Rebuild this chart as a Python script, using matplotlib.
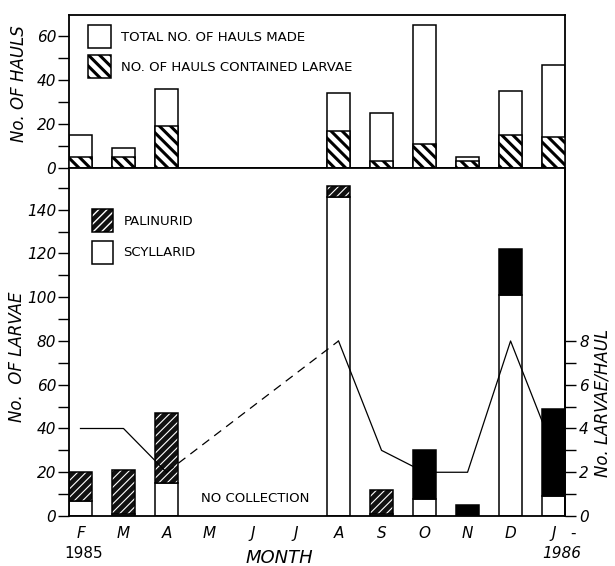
import numpy as np
import matplotlib
matplotlib.use("Agg")
import matplotlib.pyplot as plt
from matplotlib.patches import Patch
from matplotlib.ticker import MultipleLocator
from matplotlib.legend_handler import HandlerTuple

# ---------------- data ----------------
months = ['F', 'M', 'A', 'M', 'J', 'J', 'A', 'S', 'O', 'N', 'D', 'J']
hauls_total = [15, 9, 36, None, None, None, 34, 25, 65, 5, 35, 47]
hauls_larvae = [5, 5, 19, None, None, None, 17, 3, 11, 3, 15, 14]
scyllarid = [7, 1, 15, None, None, None, 146, 1, 8, 0, 101, 9]
palinurid = [13, 20, 32, None, None, None, 5, 11, 22, 5, 21, 40]
larvae_per_haul = [4, 4, 2, None, None, None, 8, 3, 2, 2, 8, 3]

# style: which palinurid bars show visible hatching (rest appear solid black)
pal_hatched = [True, True, True, False, False, False, True, True, False, False, False, False]

def arr(v):
    return np.array([np.nan if a is None else a for a in v], dtype=float)

ht, hl = arr(hauls_total), arr(hauls_larvae)
sc, pa = arr(scyllarid), arr(palinurid)
lph = arr(larvae_per_haul)
x = np.arange(len(months))
ok = ~np.isnan(ht)
W = 0.52

plt.rcParams['font.family'] = ['DejaVu Sans']
plt.rcParams['hatch.linewidth'] = 1.0

fig = plt.figure(figsize=(6.15, 5.66), dpi=100)
ax1 = fig.add_axes([0.112, 0.703, 0.807, 0.2705])
ax2 = fig.add_axes([0.112, 0.0883, 0.807, 0.6147])

def set_hlw(patches, lw):
    for p in patches:
        if hasattr(p, 'set_hatch_linewidth'):
            p.set_hatch_linewidth(lw)

# ---------------- top panel ----------------
ax1.bar(x[ok], ht[ok], W, facecolor='white', edgecolor='black', linewidth=1.1, zorder=2)
b = ax1.bar(x[ok], hl[ok], W, facecolor='white', edgecolor='black', linewidth=1.1,
            hatch='\\\\\\', zorder=3)
set_hlw(b, 2.2)
ax1.set_xlim(-0.27, 11.27)
ax1.set_ylim(0, 69.5)
ax1.yaxis.set_major_locator(MultipleLocator(20))
ax1.yaxis.set_minor_locator(MultipleLocator(10))
ax1.tick_params(axis='y', which='both', direction='out', length=8, width=1, labelsize=11, pad=1)
ax1.tick_params(axis='x', length=0, labelbottom=False)
for t in ax1.get_yticklabels():
    t.set_fontstyle('italic')
for s in ax1.spines.values():
    s.set_linewidth(1.3)

h_tot = Patch(facecolor='white', edgecolor='black', linewidth=1.1)
h_lar = Patch(facecolor='white', edgecolor='black', linewidth=1.1, hatch='\\\\\\')
set_hlw([h_lar], 2.2)
leg1 = ax1.legend([h_tot, h_lar], ['TOTAL NO. OF HAULS MADE', 'NO. OF HAULS CONTAINED LARVAE'],
                  loc='upper left', bbox_to_anchor=(0.038, 0.935), frameon=False,
                  fontsize=9.5, handlelength=1.8, handleheight=2.3, labelspacing=0.55,
                  borderpad=0, borderaxespad=0, handletextpad=0.7)
set_hlw(leg1.get_patches(), 2.2)

# ---------------- bottom panel ----------------
ax2.bar(x[ok], sc[ok], W, facecolor='white', edgecolor='black', linewidth=1.1, zorder=2)
for i in np.where(ok)[0]:
    if pal_hatched[i]:
        bb = ax2.bar(x[i], pa[i], W, bottom=sc[i], facecolor='#111111', edgecolor='white',
                     linewidth=0, hatch='////', zorder=2)
        set_hlw(bb, 0.8)
    else:
        ax2.bar(x[i], pa[i], W, bottom=sc[i], facecolor='black', edgecolor='black',
                linewidth=0, zorder=2)
    ax2.bar(x[i], pa[i], W, bottom=sc[i], fill=False, edgecolor='black', linewidth=1.1, zorder=2.5)

ax2.set_xlim(-0.27, 11.27)
ax2.set_ylim(0, 159)
ax2.yaxis.set_major_locator(MultipleLocator(20))
ax2.yaxis.set_minor_locator(MultipleLocator(10))
ax2.tick_params(axis='y', which='both', direction='out', length=8, width=1, labelsize=11, pad=1)
ax2.set_xticks(x)
ax2.set_xticklabels(months, fontsize=11, fontstyle='italic')
ax2.tick_params(axis='x', length=0, pad=7)
for t in ax2.get_yticklabels():
    t.set_fontstyle('italic')
for s in ax2.spines.values():
    s.set_linewidth(1.3)

# right axis: larvae per haul
ax3 = ax2.twinx()
ax3.set_ylim(0, 15.9)
ax3.set_yticks([0, 2, 4, 6, 8])
ax3.set_yticks([1, 3, 5, 7], minor=True)
ax3.tick_params(axis='y', which='both', direction='out', length=8, width=1, labelsize=11, pad=2)
for t in ax3.get_yticklabels():
    t.set_fontstyle('italic')
for k in ['top', 'bottom', 'left']:
    ax3.spines[k].set_visible(False)
ax3.spines['right'].set_linewidth(1.3)

# line: solid where consecutive months, dashed across the gap
valid = np.where(~np.isnan(lph))[0]
first = valid[valid <= 2]
second = valid[valid >= 6]
ax3.plot(x[first], lph[first], color='black', lw=0.9, zorder=5)
ax3.plot(x[second], lph[second], color='black', lw=0.9, zorder=5)
ax3.plot([x[first[-1]], x[second[0]]], [lph[first[-1]], lph[second[0]]], color='black',
         lw=0.9, ls=(0, (7, 5)), zorder=5)

# legend bottom
h_pal_f = Patch(facecolor='#111111', edgecolor='white', linewidth=0, hatch='////')
h_pal_e = Patch(fill=False, edgecolor='black', linewidth=1.1)
h_scy = Patch(facecolor='white', edgecolor='black', linewidth=1.1)
leg2 = ax2.legend([(h_pal_f, h_pal_e), h_scy], ['PALINURID', 'SCYLLARID'],
                  handler_map={tuple: HandlerTuple(ndivide=1)},
                  loc='upper left', bbox_to_anchor=(0.046, 0.882), frameon=False,
                  fontsize=9.5, handlelength=1.6, handleheight=2.3, labelspacing=0.65,
                  borderpad=0, borderaxespad=0, handletextpad=0.8)

ax2.text(4.07, 7.8, 'NO COLLECTION', fontsize=9.5, ha='center', va='center')

tr = ax2.get_xaxis_transform()
ax2.text(0.07, -0.109, '1985', transform=tr, fontsize=11, ha='center', va='center')
ax2.text(11.2, -0.107, '1986', transform=tr, fontsize=11, ha='center', va='center', fontstyle='italic')
ax2.text(11.45, -0.05, '-', transform=tr, fontsize=11, ha='center', va='center')
ax2.text(4.63, -0.12, 'MONTH', transform=tr, fontsize=13, ha='center', va='center', fontstyle='italic')

fig.text(0.031, 0.853, 'No. OF HAULS', rotation=90, fontsize=12, fontstyle='italic', ha='center', va='center')
fig.text(0.027, 0.369, 'No.  OF LARVAE', rotation=90, fontsize=12, fontstyle='italic', ha='center', va='center')
fig.text(0.98, 0.288, 'No. LARVAE/HAUL', rotation=90, fontsize=12, fontstyle='italic', ha='center', va='center')

fig.savefig('out.png', dpi=100)
